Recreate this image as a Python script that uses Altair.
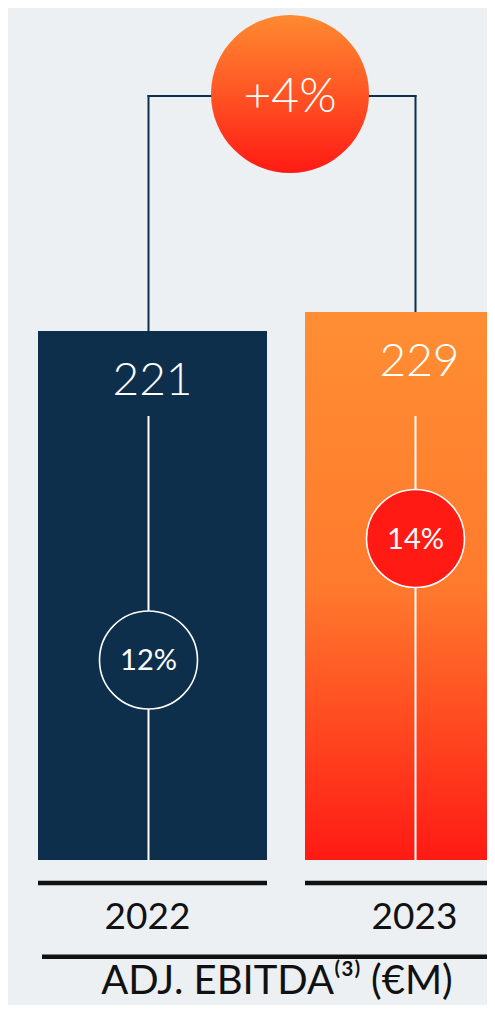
import altair as alt
import pandas as pd

# ---- data ----
years = ["2022", "2023"]
ebitda = [221, 229]
margins = [12, 14]
margin_labels = ["12%", "14%"]
growth_from = ["2022"]
growth_to = ["2023"]
growth_label = ["+4%"]
title_text = ["ADJ. EBITDA⁽³⁾ (€M)"]

NAVY = "#0E2F4B"
RED = "#FF1A14"
ORANGE = "#FF8E33"
BG = "#ECF0F3"
FONT = "Lato"

df = pd.DataFrame({"year": years, "ebitda": ebitda, "margin": margins,
                   "mlabel": margin_labels, "base": [0, 0]})
gdf = pd.DataFrame({"from": growth_from, "to": growth_to, "label": growth_label})
tdf = pd.DataFrame({"title": title_text})

xs = alt.Scale(domain=years, range=[30, 526], paddingInner=0.1423, paddingOuter=0)
yv = alt.Scale(domain=[0, 356], range=[852, 0])
ym = alt.Scale(domain=[12, 14], range=[652, 530.5])

X = lambda f, **kw: alt.X(f"{f}:N", scale=xs, axis=None, **kw)
LINE_OFF = -4

base = alt.Chart(df)

# bracket connectors
conn_v = base.mark_rule(color=NAVY, strokeWidth=2, xOffset=LINE_OFF, strokeCap="square").encode(
    x=X("year"), y=alt.Y("ebitda:Q", scale=yv, axis=None), y2=alt.value(88))
conn_h = alt.Chart(gdf).mark_rule(color=NAVY, strokeWidth=2, xOffset=LINE_OFF, x2Offset=LINE_OFF,
                                  strokeCap="square").encode(
    x=X("from"), x2=alt.X2("to"), y=alt.value(88))

grad_bar = alt.LinearGradient(gradient="linear", x1=0, x2=0, y1=0, y2=1, stops=[
    alt.GradientStop(color=ORANGE, offset=0),
    alt.GradientStop(color="#FF7A2D", offset=0.5),
    alt.GradientStop(color=RED, offset=1)])
grad_bub = alt.LinearGradient(gradient="linear", x1=0, x2=0, y1=0, y2=1, stops=[
    alt.GradientStop(color="#FF8A30", offset=0),
    alt.GradientStop(color="#FF5A25", offset=0.45),
    alt.GradientStop(color=RED, offset=1)])

bar22 = base.transform_filter(alt.datum.year == "2022").mark_bar(fill=NAVY).encode(
    x=X("year"), y=alt.Y("ebitda:Q", scale=yv, axis=None), y2=alt.Y2("base"))
bar23 = base.transform_filter(alt.datum.year == "2023").mark_bar(fill=grad_bar).encode(
    x=X("year"), y=alt.Y("ebitda:Q", scale=yv, axis=None), y2=alt.Y2("base"))

white_line = base.mark_rule(color="white", strokeWidth=2, xOffset=LINE_OFF).encode(
    x=X("year"), y=alt.Y("base:Q", scale=yv, axis=None), y2=alt.value(408))

val_text = base.mark_text(color="white", fontSize=46, font=FONT, fontWeight=300,
                          baseline="alphabetic", dy=64, align="center").encode(
    x=X("year"), y=alt.Y("ebitda:Q", scale=yv, axis=None), text="ebitda:Q")

m_circle = base.mark_point(shape="circle", filled=True, size=9600, opacity=1,
                           stroke="white", strokeWidth=1.6, xOffset=LINE_OFF).encode(
    x=X("year"), y=alt.Y("margin:Q", scale=ym, axis=None),
    fill=alt.Fill("year:N", scale=alt.Scale(domain=years, range=[NAVY, RED]), legend=None))
m_text = base.mark_text(color="white", fontSize=29, font=FONT, fontWeight=400,
                        baseline="middle", xOffset=LINE_OFF, dy=1).encode(
    x=X("year"), y=alt.Y("margin:Q", scale=ym, axis=None), text="mlabel:N")

bubble = alt.Chart(gdf).mark_point(shape="circle", filled=True, size=24964, opacity=1,
                                   fill=grad_bub, strokeWidth=0, xOffset=23).encode(
    x=X("from", bandPosition=1), y=alt.value(86))
bub_text = alt.Chart(gdf).mark_text(color="white", fontSize=48, font=FONT, fontWeight=300,
                                    baseline="middle", xOffset=23, dy=4).encode(
    x=X("from", bandPosition=1), y=alt.value(86), text="label:N")

underline = base.mark_bar(fill="#111111").encode(
    x=X("year"), y=alt.value(872.8), y2=alt.value(877.3))
year_text = base.mark_text(color="#111111", fontSize=37, font=FONT, fontWeight=400,
                           baseline="alphabetic", xOffset=-5).encode(
    x=X("year"), y=alt.value(921), text="year:N")

bottom_rule = alt.Chart(tdf).mark_rule(color="#111111", strokeWidth=4.5).encode(
    x=alt.value(34), x2=alt.value(487), y=alt.value(948.7))
title = alt.Chart(tdf).mark_text(color="#111111", fontSize=40, font=FONT, fontWeight=400,
                                 baseline="alphabetic").encode(
    x=alt.value(269), y=alt.value(986), text="title:N")

chart = alt.layer(conn_v, conn_h, bar22, bar23, white_line, val_text, m_circle, m_text,
                  bubble, bub_text, underline, year_text, bottom_rule, title).resolve_scale(
    y="independent").properties(
    width=479, height=997, padding=0,
    autosize=alt.AutoSizeParams(type="none"), background=BG
).configure_view(strokeWidth=0)

chart.save("out.html", embed_options={"renderer": "svg", "actions": False})
